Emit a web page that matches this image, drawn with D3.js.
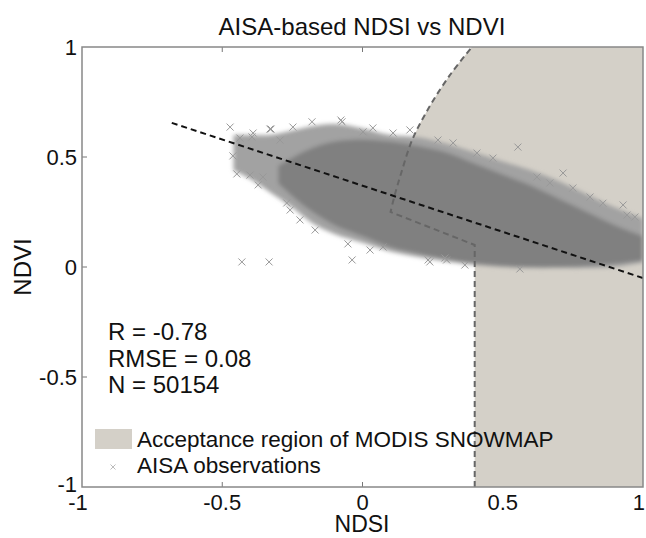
<!DOCTYPE html>
<html lang="en">
  <head>
    <meta charset="UTF-8" />
    <script src="https://d3js.org/d3.v7.min.js"></script>
    <title>AISA-based NDSI vs NDVI</title>
    <style>
      body { margin: 0; background: #fff; }
      text { font-family: Arial, 'Liberation Sans', sans-serif; fill: #111; }
    </style>
  </head>
  <body>
    <script>
      const width = 646
      const height = 538
      const margin = { top: 47, right: 3, bottom: 51, left: 82 }

      // axis ticks
      const ndsiTicks = [-1, -0.5, 0, 0.5, 1]
      const ndviTicks = [-1, -0.5, 0, 0.5, 1]

      // boundary of the MODIS SNOWMAP acceptance region (NDSI, NDVI)
      // first three points are straight segments, the rest is the curved part
      const regionNdsi = [0.4, 0.4, 0.1, 0.113, 0.138, 0.177, 0.238, 0.312, 0.39]
      const regionNdvi = [-1, 0.1, 0.25, 0.318, 0.427, 0.577, 0.727, 0.873, 1]

      // regression line end points
      const fitNdsi = [-0.68, 1]
      const fitNdvi = [0.655, -0.05]

      // outer envelope of the observation cloud
      const cloudNdsi = [-0.46, -0.4, -0.33, -0.25, -0.18, -0.1, 0, 0.1, 0.2, 0.3, 0.4, 0.5, 0.6, 0.7, 0.8, 0.9, 1]
      const cloudHigh = [0.6, 0.6, 0.6, 0.62, 0.64, 0.65, 0.63, 0.6, 0.59, 0.56, 0.52, 0.48, 0.44, 0.39, 0.33, 0.27, 0.22]
      const cloudLow = [0.44, 0.4, 0.34, 0.27, 0.2, 0.15, 0.11, 0.07, 0.045, 0.025, 0.01, 0, -0.005, -0.005, -0.005, 0, 0.02]

      // dense core of the cloud
      const coreNdsi = [-0.3, -0.2, -0.1, 0, 0.1, 0.2, 0.3, 0.4, 0.5, 0.6, 0.7, 0.8, 0.9, 1]
      const coreHigh = [0.46, 0.53, 0.57, 0.58, 0.57, 0.55, 0.52, 0.47, 0.42, 0.37, 0.31, 0.25, 0.19, 0.14]
      const coreLow = [0.38, 0.27, 0.19, 0.14, 0.09, 0.06, 0.035, 0.015, 0.005, 0, 0, 0.005, 0.015, 0.03]

      // single observations visible around the cloud
      const obsNdsi = [-0.472, -0.462, -0.448, -0.437, -0.394, -0.33, -0.372, -0.401, -0.43, -0.333,
        -0.052, -0.037, -0.18, -0.077, -0.258, -0.223, -0.169, -0.294, -0.355, -0.248,
        -0.073, 0.554, 0.715, 0.75, 0.929, 0.943, 0.971, 0.323, 0.269, 0.465,
        0.408, 0.622, 0.668, 0.811, 0.857, 0.027, 0.234, 0.294, 0.365, 0.561,
        0.169, 0.109, 0.037, 0.002, 0.073, 0.24, 0.3, -0.27, -0.39, -0.326]
      const obsNdvi = [0.636, 0.505, 0.423, 0.586, 0.591, 0.627, 0.373, 0.418, 0.023, 0.023,
        0.105, 0.032, 0.66, 0.668, 0.259, 0.214, 0.168, 0.577, 0.409, 0.636,
        0.66, 0.545, 0.427, 0.359, 0.282, 0.236, 0.227, 0.564, 0.577, 0.495,
        0.518, 0.409, 0.382, 0.318, 0.29, 0.077, 0.032, 0.041, 0.009, -0.009,
        0.623, 0.609, 0.632, 0.614, 0.091, 0.023, 0.032, 0.291, 0.609, 0.627]

      const stats = ['R = -0.78', 'RMSE = 0.08', 'N = 50154']
      const legendLabels = ['Acceptance region of MODIS SNOWMAP', 'AISA observations']

      const regionColor = '#d4d0c8'

      const svg = d3.select('body')
        .append('svg')
        .attr('width', width)
        .attr('height', height)

      const x = d3.scaleLinear().domain([-1, 1]).range([margin.left, width - margin.right])
      const y = d3.scaleLinear().domain([-1, 1]).range([height - margin.bottom, margin.top])

      const defs = svg.append('defs')
      defs.append('filter').attr('id', 'soft')
        .attr('x', '-5%').attr('y', '-5%').attr('width', '110%').attr('height', '110%')
        .append('feGaussianBlur').attr('stdDeviation', 2)
      defs.append('clipPath').attr('id', 'plotClip')
        .append('rect')
        .attr('x', x(-1)).attr('y', y(1))
        .attr('width', x(1) - x(-1)).attr('height', y(-1) - y(1))

      // inner ticks on all sides
      const tickLen = 5
      const ticks = svg.append('g').attr('stroke', '#777').attr('stroke-width', 1)
      ndsiTicks.slice(1, -1).forEach(function (t) {
        ticks.append('line').attr('x1', x(t)).attr('x2', x(t)).attr('y1', y(-1)).attr('y2', y(-1) - tickLen)
        ticks.append('line').attr('x1', x(t)).attr('x2', x(t)).attr('y1', y(1)).attr('y2', y(1) + tickLen)
      })
      ndviTicks.slice(1, -1).forEach(function (t) {
        ticks.append('line').attr('x1', x(-1)).attr('x2', x(-1) + tickLen).attr('y1', y(t)).attr('y2', y(t))
        ticks.append('line').attr('x1', x(1)).attr('x2', x(1) - tickLen).attr('y1', y(t)).attr('y2', y(t))
      })

      const plot = svg.append('g').attr('clip-path', 'url(#plotClip)')

      // acceptance region: straight part + curved part
      const regionPts = regionNdsi.map((d, i) => [d, regionNdvi[i]])
      const straight = d3.line().x(d => x(d[0])).y(d => y(d[1]))
      const curved = d3.line().curve(d3.curveCatmullRom).x(d => x(d[0])).y(d => y(d[1]))
      const boundary = straight(regionPts.slice(0, 3)) + curved(regionPts.slice(2)).replace(/^M[^A-Za-z]*/, '')
      plot.append('path')
        .attr('d', boundary + 'L' + x(1) + ',' + y(1) + 'L' + x(1) + ',' + y(-1) + 'Z')
        .attr('fill', regionColor)

      // observation cloud
      const cloud = plot.append('g').attr('filter', 'url(#soft)')
      cloud.append('path')
        .datum(cloudNdsi.map((d, i) => [d, cloudHigh[i], cloudLow[i]]))
        .attr('d', d3.area().curve(d3.curveCatmullRom)
          .x(d => x(d[0])).y0(d => y(d[2])).y1(d => y(d[1])))
        .attr('fill', '#a2a2a2')
      cloud.append('path')
        .datum(coreNdsi.map((d, i) => [d, coreHigh[i], coreLow[i]]))
        .attr('d', d3.area().curve(d3.curveCatmullRom)
          .x(d => x(d[0])).y0(d => y(d[2])).y1(d => y(d[1])))
        .attr('fill', '#808080')

      const s = 3.5
      plot.append('g')
        .attr('stroke', '#999')
        .attr('stroke-width', 1)
        .selectAll('path')
        .data(obsNdsi.map((d, i) => [d, obsNdvi[i]]))
        .join('path')
        .attr('d', d => {
          const cx = x(d[0]), cy = y(d[1])
          return `M${cx - s},${cy - s}L${cx + s},${cy + s}M${cx - s},${cy + s}L${cx + s},${cy - s}`
        })

      // region boundary
      plot.append('path')
        .attr('d', boundary)
        .attr('fill', 'none')
        .attr('stroke', '#666')
        .attr('stroke-width', 2)
        .attr('stroke-dasharray', '6,4')

      // regression line
      plot.append('line')
        .attr('x1', x(fitNdsi[0])).attr('y1', y(fitNdvi[0]))
        .attr('x2', x(fitNdsi[1])).attr('y2', y(fitNdvi[1]))
        .attr('stroke', '#111')
        .attr('stroke-width', 2)
        .attr('stroke-dasharray', '6,4')

      // box
      svg.append('rect')
        .attr('x', x(-1)).attr('y', y(1))
        .attr('width', x(1) - x(-1)).attr('height', y(-1) - y(1))
        .attr('fill', 'none')
        .attr('stroke', '#888')
        .attr('stroke-width', 1.5)

      // tick labels
      const fmt = d => d3.format('~g')(d).replace('−', '-')
      svg.append('g').selectAll('text')
        .data(ndsiTicks)
        .join('text')
        .attr('x', d => d === 1 ? width - 1 : x(d) - (d === -1 ? 4 : 0))
        .attr('y', 510)
        .attr('text-anchor', d => d === 1 ? 'end' : 'middle')
        .attr('font-size', 22)
        .text(fmt)
      svg.append('g').selectAll('text')
        .data(ndviTicks)
        .join('text')
        .attr('x', 77)
        .attr('y', d => y(d) - (d === -1 ? 3 : 0))
        .attr('dy', '0.36em')
        .attr('text-anchor', 'end')
        .attr('font-size', 22)
        .text(fmt)

      // titles
      svg.append('text')
        .attr('x', 362).attr('y', 35)
        .attr('text-anchor', 'middle')
        .attr('font-size', 24)
        .text('AISA-based NDSI vs NDVI')
      svg.append('text')
        .attr('x', 362).attr('y', 532)
        .attr('text-anchor', 'middle')
        .attr('font-size', 23)
        .text('NDSI')
      svg.append('text')
        .attr('transform', 'translate(31,267) rotate(-90)')
        .attr('text-anchor', 'middle')
        .attr('font-size', 24)
        .text('NDVI')

      // statistics
      svg.append('g').selectAll('text')
        .data(stats)
        .join('text')
        .attr('x', 108)
        .attr('y', (d, i) => 340 + i * 26.5)
        .attr('font-size', 24)
        .text(d => d)

      // legend
      const legend = svg.append('g')
      legend.append('rect')
        .attr('x', 95).attr('y', 429).attr('width', 37).attr('height', 20)
        .attr('fill', regionColor)
      legend.append('path')
        .attr('d', 'M110.5,464.5L115.5,469.5M110.5,469.5L115.5,464.5')
        .attr('stroke', '#bbb')
        .attr('stroke-width', 1)
      legend.selectAll('text')
        .data(legendLabels)
        .join('text')
        .attr('x', 137)
        .attr('y', (d, i) => 447 + i * 26)
        .attr('font-size', 22.5)
        .text(d => d)
    </script>
  </body>
</html>
